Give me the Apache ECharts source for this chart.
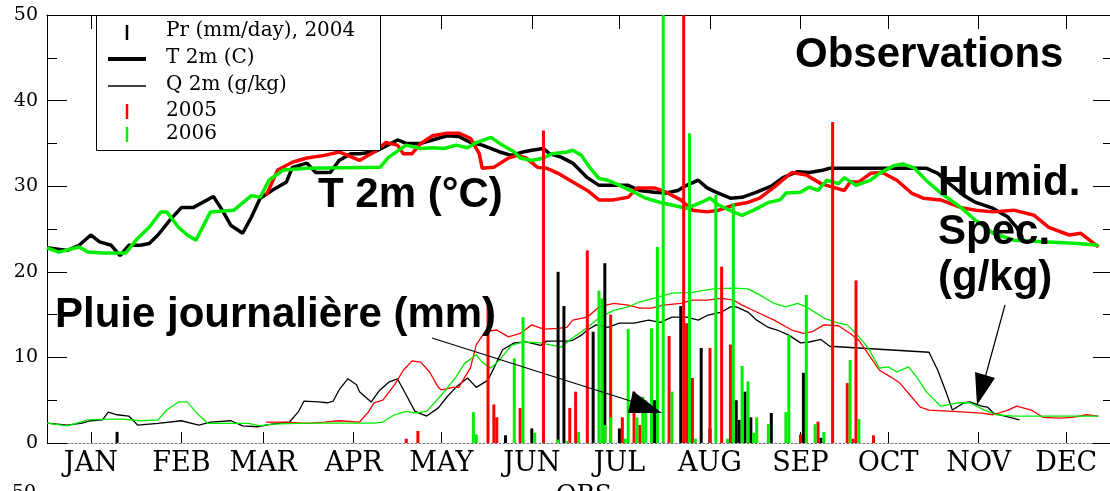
<!DOCTYPE html>
<html><head><meta charset="utf-8">
<script src="https://cdn.jsdelivr.net/npm/echarts@6/dist/echarts.min.js"></script>
<style>html,body{margin:0;padding:0;background:#fff}#c{width:1110px;height:491px}</style>
</head><body><div id="c"></div>
<script>
// ---- tick labels (mid-month days) ----
const tickDays = [15, 46, 74, 105, 135, 166, 196, 227, 258, 288, 319, 349];
const monthLabels = ['JAN','FEB','MAR','APR','MAY','JUN','JUL','AUG','SEP','OCT','NOV','DEC'];
const yTicks = [0, 10, 20, 30, 40, 50];

// ---- T 2m (C) [day, value] ----
const t2004 = [[0,22.8],[7,22.5],[11,23.1],[15,24.3],[18,23.5],[22,23.1],[25,21.9],[28,23.1],[32,23.1],[35,23.3],[38,24.3],[42,26.0],[46,27.5],[50,27.5],[57,28.8],[60,27.2],[63,25.4],[67,24.5],[70,26.4],[73,28.6],[77,29.5],[82,30.5],[84,32.2],[89,32.7],[92,31.6],[97,31.6],[100,33.0],[104,33.8],[107,33.8],[112,34.0],[115,34.5],[120,35.4],[123,35.0],[128,35.0],[132,35.4],[137,35.9],[141,35.8],[145,35.1],[149,34.8],[155,34.0],[159,33.6],[163,34.0],[166,34.2],[170,34.4],[172,33.8],[176,33.4],[180,32.7],[185,31.0],[189,30.1],[194,30.1],[199,30.1],[203,29.5],[208,29.3],[212,29.2],[216,29.5],[219,30.1],[223,30.7],[226,29.8],[229,29.3],[234,28.6],[238,28.7],[243,29.3],[248,30.0],[252,31.0],[257,31.7],[261,31.6],[266,31.9],[268,32.1],[301,32.1],[305,31.5],[309,30.3],[314,28.9],[318,28.1],[324,27.4],[329,26.4],[332,25.2],[334,24.0]];
const t2005 = [[75,28.9],[79,31.9],[84,32.8],[89,33.3],[95,33.6],[100,34.0],[105,33.3],[107,33.0],[112,34.0],[116,35.1],[120,34.8],[122,33.8],[125,33.8],[128,35.0],[132,35.9],[137,36.2],[141,36.2],[145,35.6],[148,33.8],[149,32.1],[153,32.2],[158,33.3],[161,33.6],[164,33.3],[168,32.2],[171,32.1],[175,31.5],[179,30.7],[185,29.5],[189,28.4],[194,28.4],[199,28.7],[202,29.8],[208,29.8],[212,29.3],[217,28.4],[221,27.2],[226,27.0],[230,27.2],[235,27.8],[240,28.1],[244,28.6],[249,29.9],[255,31.6],[260,31.3],[265,30.3],[269,29.9],[273,29.5],[275,30.5],[278,30.5],[282,31.5],[286,31.6],[291,30.7],[296,29.2],[300,28.6],[306,28.4],[313,27.5],[318,27.2],[324,27.0],[331,27.2],[338,26.6],[343,25.2],[350,24.3],[354,24.5],[360,22.9]];
const t2006 = [[0,22.8],[4,22.3],[11,22.9],[14,22.3],[19,22.2],[24,22.2],[27,22.2],[31,23.9],[35,25.2],[39,27.0],[41,27.0],[45,25.2],[48,24.3],[51,23.7],[56,27.0],[64,27.2],[70,28.9],[73,28.7],[76,30.7],[81,31.9],[89,32.1],[114,32.2],[117,33.4],[123,34.8],[128,34.4],[132,34.5],[136,34.4],[140,34.8],[144,34.5],[147,35.1],[152,35.7],[155,35.0],[160,34.0],[162,33.3],[166,33.0],[170,33.3],[173,33.8],[178,34.0],[180,34.2],[183,33.6],[186,32.1],[189,30.9],[192,30.7],[196,30.1],[201,29.3],[205,28.6],[210,28.1],[214,27.8],[219,27.4],[224,28.1],[227,28.6],[230,27.8],[235,27.0],[238,26.6],[242,27.2],[247,28.1],[251,28.4],[253,29.2],[258,29.3],[261,29.9],[264,29.5],[267,30.7],[271,30.3],[273,31.0],[277,30.1],[282,30.7],[285,31.5],[290,32.4],[293,32.6],[297,32.1],[301,30.7],[306,29.2],[313,27.5],[318,26.0],[324,24.5],[331,23.7],[341,23.5],[353,23.3],[360,23.1]];

// ---- Q 2m (g/kg) [day, value] ----
const q2004 = [[0,2.33],[7,2.1],[12,2.33],[15,2.6],[19,2.7],[21,3.6],[24,3.3],[28,3.15],[31,2.1],[38,2.3],[46,2.6],[52,2.1],[56,2.45],[63,2.6],[67,2.0],[72,1.9],[77,2.2],[83,2.45],[86,3.6],[88,4.9],[93,4.8],[96,4.7],[98,4.9],[100,6.2],[103,7.5],[106,6.8],[107,6.0],[111,4.8],[114,6.2],[117,7.1],[120,7.5],[123,5.6],[126,3.7],[130,3.15],[134,4.1],[137,5.4],[140,6.5],[144,7.6],[147,6.5],[151,7.35],[153,8.75],[156,10.9],[160,11.7],[164,11.8],[169,11.4],[171,11.9],[178,11.9],[180,12.0],[183,12.6],[185,13.2],[188,13.8],[192,13.5],[196,14.0],[201,14.0],[206,14.35],[210,14.1],[214,14.7],[219,14.7],[223,14.35],[226,14.9],[231,15.3],[234,15.9],[236,15.9],[240,15.3],[243,14.35],[247,13.5],[250,13.2],[254,12.6],[258,11.7],[261,11.8],[265,12.1],[268,11.3],[302,10.6],[305,8.5],[308,5.8],[310,3.85],[314,4.7],[316,4.8],[320,4.3],[322,4.2],[324,3.5],[333,2.7]];
const q2005 = [[75,2.45],[82,2.45],[89,2.3],[95,2.45],[100,2.6],[107,2.45],[110,3.6],[112,4.7],[115,5.0],[119,6.8],[122,8.5],[125,9.6],[128,9.45],[131,8.3],[134,6.5],[135,6.2],[139,6.5],[141,6.5],[145,8.8],[147,11.5],[150,13.0],[154,13.2],[158,12.4],[162,12.8],[166,13.8],[170,13.3],[175,13.4],[178,13.5],[180,14.35],[185,14.7],[189,15.9],[194,16.3],[199,16.1],[203,15.75],[207,15.75],[211,16.1],[217,16.3],[221,16.7],[226,16.7],[231,16.9],[235,16.7],[238,16.1],[243,15.3],[249,14.35],[255,13.2],[259,12.8],[262,13.0],[266,13.8],[271,13.7],[275,12.8],[278,12.0],[282,10.0],[285,8.5],[289,7.7],[292,7.0],[296,5.4],[299,4.2],[302,3.85],[310,3.7],[320,3.5],[324,3.3],[329,3.85],[332,4.3],[337,3.85],[341,3.0],[347,2.9],[351,3.0],[356,3.3],[360,3.15]];
const q2006 = [[0,2.33],[7,2.0],[14,2.7],[21,2.8],[26,2.8],[32,2.6],[38,2.7],[41,3.85],[45,4.8],[48,4.8],[51,3.6],[55,2.3],[62,2.3],[69,2.3],[73,2.0],[77,2.2],[89,2.33],[100,2.33],[112,2.33],[115,2.45],[119,3.3],[123,3.7],[126,3.5],[130,3.7],[134,5.2],[137,6.4],[140,7.7],[143,9.3],[147,10.3],[149,9.45],[152,8.75],[155,9.7],[159,11.4],[163,11.8],[169,11.7],[176,11.2],[180,12.3],[185,13.5],[189,14.6],[194,15.5],[199,15.9],[203,16.5],[209,17.0],[214,17.5],[221,17.6],[228,18.0],[235,18.1],[240,18.0],[244,17.3],[249,16.3],[253,15.9],[257,16.3],[260,15.9],[266,14.6],[271,14.0],[274,13.8],[277,12.8],[281,11.2],[285,8.75],[288,8.9],[291,8.3],[295,8.9],[298,7.6],[301,6.0],[306,4.3],[312,4.7],[316,4.7],[321,3.85],[325,3.3],[331,3.15],[360,3.15]];

// ---- daily precipitation (mm/day) [day, value] ----
const pr2004 = [[24,1.3],[157,0.9],[166,1.7],[175,20.0],[177,16.0],[187,13.0],[191,21.0],[196,1.7],[208,5.0],[217,16.0],[224,11.1],[227,1.7],[236,5.0],[237,2.7],[239,6.0],[241,3.0],[248,3.5],[259,8.2],[265,0.6]];
const pr2005 = [[123,0.5],[127,1.4],[151,17.0],[153,4.5],[154,3.0],[162,4.1],[170,36.5],[179,4.1],[181,6.0],[185,22.5],[193,15.0],[197,3.0],[201,6.0],[203,2.1],[213,12.5],[218,60],[219,14.0],[221,7.6],[227,11.1],[231,20.6],[234,11.5],[258,1.0],[264,2.5],[269,37.5],[274,7.0],[276,0.5],[277,19.0],[283,0.9]];
const pr2006 = [[146,3.6],[147,1.0],[160,9.9],[163,14.7],[167,1.2],[175,0.4],[178,0.2],[182,1.3],[189,17.8],[190,16.9],[191,2.1],[193,3.0],[198,0.5],[199,13.3],[202,3.0],[204,5.4],[205,5.0],[207,13.4],[209,22.9],[211,60],[214,6.0],[220,36.2],[222,0.5],[229,29.0],[233,0.5],[235,28.0],[238,9.0],[240,7.2],[242,1.2],[243,3.0],[247,2.2],[253,3.6],[254,12.6],[260,17.3],[263,2.2],[266,1.3],[275,9.7],[278,2.8]];

const RED = '#ff0000', GREEN = '#00ee00', BLACK = '#000000';
const SERIF = '"DejaVu Serif", serif';
const SANS = '"Liberation Sans", Arial, sans-serif';

const chart = echarts.init(document.getElementById('c'), null, {renderer: 'canvas'});

function lineS(data, color, width, z) {
  return {type: 'line', data: data, symbol: 'none', showSymbol: false, smooth: false,
    lineStyle: {color: color, width: width}, z: z, animation: false, silent: true};
}
function barS(data, color) {
  return {type: 'bar', data: data, barWidth: 3, barGap: '-100%', itemStyle: {color: color},
    z: 5, animation: false, silent: true, clip: true};
}

const boldT = (text, x, y) => ({type: 'text', x: x, y: y, z: 100,
  style: {text: text, font: 'bold 42px ' + SANS, fill: '#000', textAlign: 'left', textVerticalAlign: 'middle'}});
const serifT = (text, x, y, size, va) => ({type: 'text', x: x, y: y, z: 100,
  style: {text: text, font: size + 'px ' + SERIF, fill: '#000', textAlign: 'left', textVerticalAlign: va || 'middle'}});

const option = {
  backgroundColor: '#fff',
  animation: false,
  grid: {left: 47, top: 15, right: -3, bottom: 48, containLabel: false, outerBoundsMode: 'none'},
  xAxis: [{
    type: 'value', min: 0, max: 365, position: 'bottom',
    axisLine: {show: true, onZero: false, lineStyle: {color: '#777', width: 1, type: [2, 2]}},
    axisTick: {show: true, inside: true, length: 11, customValues: tickDays, lineStyle: {color: '#000', width: 1}},
    axisLabel: {show: true, customValues: tickDays, margin: 7, color: '#000', fontFamily: SERIF, fontSize: 27,
      formatter: v => monthLabels[tickDays.indexOf(v)]},
    splitLine: {show: false}
  }, {
    type: 'value', min: 0, max: 365, position: 'top',
    axisLine: {show: true, onZero: false, lineStyle: {color: '#000', width: 1}},
    axisTick: {show: true, inside: true, length: 14, customValues: tickDays, lineStyle: {color: '#000', width: 1}},
    axisLabel: {show: false},
    splitLine: {show: false}
  }],
  yAxis: [{
    type: 'value', min: 0, max: 50, interval: 10, position: 'left',
    axisLine: {show: true, onZero: false, lineStyle: {color: '#000', width: 1}},
    axisTick: {show: true, inside: true, length: 20, lineStyle: {color: '#000', width: 1}},
    minorTick: {show: true, splitNumber: 2, length: 10, lineStyle: {color: '#000', width: 1}},
    axisLabel: {show: true, margin: 9, color: '#000', fontFamily: SERIF, fontSize: 19,
      formatter: v => yTicks.indexOf(v) >= 0 ? String(v) : ''},
    splitLine: {show: false}
  }, {
    type: 'value', min: 0, max: 50, interval: 10, position: 'right',
    axisLine: {show: true, onZero: false, lineStyle: {color: '#000', width: 1}},
    axisTick: {show: true, inside: true, length: 20, lineStyle: {color: '#000', width: 1}},
    minorTick: {show: true, splitNumber: 2, length: 10, lineStyle: {color: '#000', width: 1}},
    axisLabel: {show: false},
    splitLine: {show: false}
  }],
  series: [
    lineS(q2004, BLACK, 1.3, 2),
    lineS(q2005, RED, 1.3, 2),
    lineS(q2006, GREEN, 1.3, 2),
    lineS(t2004, BLACK, 3.5, 3),
    lineS(t2005, RED, 3.5, 3),
    lineS(t2006, GREEN, 3.5, 3),
    barS(pr2004, BLACK),
    barS(pr2005, RED),
    barS(pr2006, GREEN)
  ],
  graphic: [
    // legend box
    {type: 'rect', z: 90, shape: {x: 96.5, y: 15.5, width: 284, height: 135},
      style: {fill: '#fff', stroke: '#000', lineWidth: 1}},
    {type: 'line', z: 95, shape: {x1: 127, y1: 25, x2: 127, y2: 40}, style: {stroke: BLACK, lineWidth: 2.5}},
    {type: 'line', z: 95, shape: {x1: 108, y1: 59, x2: 146, y2: 59}, style: {stroke: BLACK, lineWidth: 4}},
    {type: 'line', z: 95, shape: {x1: 108, y1: 86, x2: 146, y2: 86}, style: {stroke: BLACK, lineWidth: 1.3}},
    {type: 'line', z: 95, shape: {x1: 127, y1: 104, x2: 127, y2: 119}, style: {stroke: RED, lineWidth: 2.5}},
    {type: 'line', z: 95, shape: {x1: 127, y1: 127, x2: 127, y2: 142}, style: {stroke: GREEN, lineWidth: 2.5}},
    serifT('Pr (mm/day), 2004', 166, 31, 20),
    serifT('T 2m (C)', 166, 58, 20),
    serifT('Q 2m (g/kg)', 166, 85, 20),
    serifT('2005', 166, 111, 20),
    serifT('2006', 166, 134, 20),
    // annotations
    boldT('Observations', 795, 55),
    boldT('T 2m (°C)', 318, 195),
    boldT('Humid.', 938, 183),
    boldT('Spec.', 938, 232),
    boldT('(g/kg)', 938, 278),
    boldT('Pluie journalière (mm)', 55, 315),
    // arrows
    {type: 'line', z: 96, shape: {x1: 432, y1: 338, x2: 640, y2: 404}, style: {stroke: '#000', lineWidth: 1.2}},
    {type: 'polygon', z: 96, shape: {points: [[633, 391], [628, 413], [662, 413]]}, style: {fill: '#000'}},
    {type: 'line', z: 96, shape: {x1: 1005, y1: 305, x2: 985, y2: 378}, style: {stroke: '#000', lineWidth: 1.2}},
    {type: 'polygon', z: 96, shape: {points: [[975, 372], [995, 378], [977, 405]]}, style: {fill: '#000'}},
    // cut-off texts of next panel
    serifT('OBS', 556, 483, 25, 'top'),
    serifT('50', 12, 484, 19, 'top')
  ]
};
chart.setOption(option);
</script></body></html>
